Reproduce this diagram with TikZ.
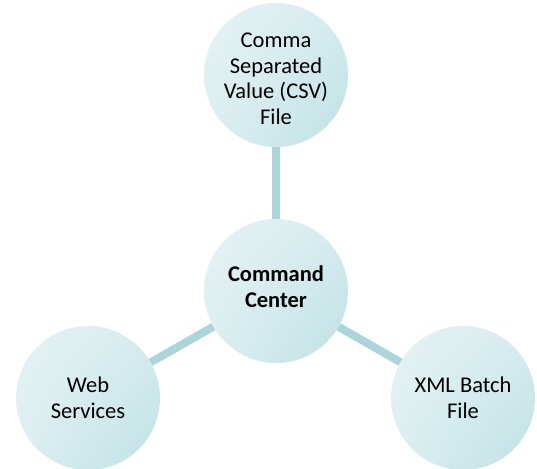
\documentclass[tikz,border=0pt]{standalone}
\usepackage{fontspec}
\setmainfont{Carlito}
\usepackage{tikz}
\usetikzlibrary{shadings}

\definecolor{huba}{RGB}{230,243,244}
\definecolor{hubb}{RGB}{190,225,229}
\definecolor{spoke}{RGB}{170,214,219}

\begin{document}
\begin{tikzpicture}[x=1pt,y=-1pt,
  hub/.style={circle,minimum size=144pt,inner sep=0pt,align=center,
    font=\fontsize{22.5}{25.5}\selectfont,
    upper left=huba,upper right=huba!60!hubb,lower left=huba!75!hubb,lower right=hubb},
  spokeline/.style={line width=8pt,spoke}]
  \useasboundingbox (0,0) rectangle (537,468);
  % Circles
  \node[hub] (cmd) at (276,291) {\textbf{Command}\\\textbf{Center}\\[-17pt]\mbox{}};
  \node[hub] (csv) at (276,75) {\mbox{}\\[-3pt]Comma\\Separated\\Value (CSV)\\File};
  \node[hub] (web) at (88,398) {Web\\Services};
  \node[hub] (xml) at (463,398) {XML Batch\\File};
  % Spokes
  \draw[spokeline] (cmd) -- (csv);
  \draw[spokeline] (cmd) -- (web);
  \draw[spokeline] (cmd) -- (xml);
\end{tikzpicture}
\end{document}
